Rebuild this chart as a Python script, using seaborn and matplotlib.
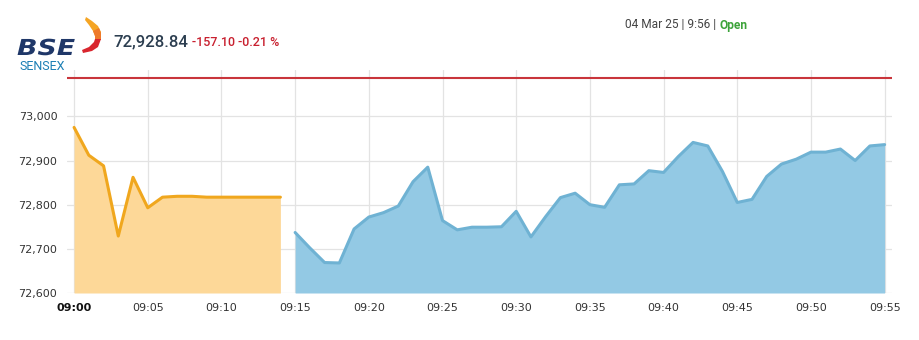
import matplotlib
matplotlib.use("Agg")
import matplotlib.pyplot as plt
from matplotlib.patches import Polygon, PathPatch
from matplotlib.textpath import TextPath
from matplotlib.font_manager import FontProperties
from matplotlib.transforms import Affine2D
import matplotlib.ticker as mticker
import numpy as np
import pandas as pd
import seaborn as sns

# ---- data ----
pre_minutes = list(range(0, 15))           # 09:00 .. 09:14
pre_values = [72975, 72912, 72888, 72729, 72862, 72793, 72817, 72819, 72819,
              72817, 72817, 72817, 72817, 72817, 72817]
open_minutes = list(range(15, 56))         # 09:15 .. 09:55
open_values = [72737, 72702, 72669, 72668, 72745, 72772, 72782, 72797, 72852,
               72885, 72764, 72743, 72749, 72749, 72750, 72785, 72727, 72773,
               72816, 72826, 72800, 72794, 72845, 72847, 72877, 72873, 72909,
               72941, 72933, 72875, 72805, 72812, 72864, 72892, 72903, 72919,
               72919, 72926, 72900, 72933, 72936]
prev_close = 73085.94
last_value = "72,928.84"
change_text = "-157.10 -0.21 %"
status_text = "04 Mar 25 | 9:56 | "
status_word = "Open"
x_tick_minutes = list(range(0, 56, 5))
x_tick_labels = ["09:%02d" % m for m in x_tick_minutes]
y_ticks = [72600, 72700, 72800, 72900, 73000]

pre_df = pd.DataFrame({"minute": pre_minutes, "value": pre_values})
open_df = pd.DataFrame({"minute": open_minutes, "value": open_values})

sns.set_theme(style="white")
plt.rcParams["font.family"] = ["DejaVu Sans"]

W, H = 919, 340
fig = plt.figure(figsize=(W / 100, H / 100), dpi=100)
fig.patch.set_facecolor("white")

ax = fig.add_axes([67 / W, 1 - 293 / H, (892 - 67) / W, (293 - 70) / H])
ymin, ymax = 72600, 73105

orange_line = "#F0A71E"
orange_fill = "#FDD898"
blue_line = "#6FB2D3"
blue_fill = "#93C9E4"

ax.fill_between(pre_df["minute"], pre_df["value"], ymin, color=orange_fill, lw=0, zorder=2)
ax.fill_between(open_df["minute"], open_df["value"], ymin, color=blue_fill, lw=0, zorder=2)
sns.lineplot(data=pre_df, x="minute", y="value", ax=ax, color=orange_line, lw=2.2, zorder=3)
sns.lineplot(data=open_df, x="minute", y="value", ax=ax, color=blue_line, lw=2.2, zorder=3)
ax.axhline(prev_close, color="#C9353B", lw=1.5, zorder=4)

ax.set_xlim(-0.48, 55.5)
ax.set_ylim(ymin, ymax)
ax.set_xticks(x_tick_minutes)
ax.set_xticklabels(x_tick_labels)
ax.set_yticks(y_ticks)
ax.yaxis.set_major_formatter(mticker.FuncFormatter(lambda v, p: f"{int(v):,}"))
ax.set_xlabel("")
ax.set_ylabel("")
ax.grid(True, color="#E3E3E3", lw=0.9, zorder=1)
ax.set_axisbelow(True)
for s in ax.spines.values():
    s.set_visible(False)
ax.tick_params(axis="both", length=0, labelsize=8, colors="#333333")
ax.tick_params(axis="x", pad=7)
ax.tick_params(axis="y", pad=7)
ax.get_xticklabels()[0].set_fontweight("bold")
ax.get_xticklabels()[0].set_color("#111111")

# ---- header ----
v = fig.text(113 / W, 1 - 42 / H, last_value, fontsize=12, color="#2C3E50",
             family="Roboto", va="center", ha="left", fontweight="medium")
fig.canvas.draw()
vb = v.get_window_extent()
fig.text((vb.x1 + 4) / W, 1 - 43 / H, change_text, fontsize=9, color="#C8202F",
         family="Roboto", va="center", ha="left", fontweight="medium")
t = fig.text(625 / W, 1 - 25 / H, status_text, fontsize=8.6, color="#444444",
             family="Roboto", va="center", ha="left")
fig.canvas.draw()
bb = t.get_window_extent()
fig.text(bb.x1 / W, 1 - 25 / H, status_word, fontsize=8.6, color="#3DA33A",
         family="Roboto", va="center", ha="left", fontweight="bold")

# ---- logo ----
bse_path = TextPath((0, 0), "BSE", size=22,
                    prop=FontProperties(family="DejaVu Sans", weight="heavy", style="italic"))
bse_patch = PathPatch(bse_path, color="#1F3768", lw=0,
                      transform=Affine2D().scale(1.22, 1.0).translate(17, H - 55))
fig.patches.append(bse_patch)
fig.text(19 / W, 1 - 66 / H, "SENSEX", fontsize=9, color="#1B7FB4",
         family="Roboto", va="center", ha="left")

def px(pts):
    return [(x / W, 1 - y / H) for x, y in pts]

flame_top = Polygon(px([(86, 17), (92, 21), (98, 26), (101, 32), (101, 39), (95, 39),
                        (95, 36), (93, 31), (89, 25), (85, 20)]),
                    closed=True, transform=fig.transFigure, color="#F5A524", lw=0)
flame_mid = Polygon(px([(93, 31), (99, 28), (101, 33), (101, 40), (95, 40), (95, 36)]),
                    closed=True, transform=fig.transFigure, color="#EE7A2A", lw=0)
flame_bot = Polygon(px([(101, 39), (98, 47), (92, 51), (83, 53), (82, 50), (89, 47),
                        (94, 42), (95, 39)]),
                    closed=True, transform=fig.transFigure, color="#D9262E", lw=0)
for p in (flame_top, flame_mid, flame_bot):
    fig.patches.append(p)

fig.savefig("out.png", dpi=100)
